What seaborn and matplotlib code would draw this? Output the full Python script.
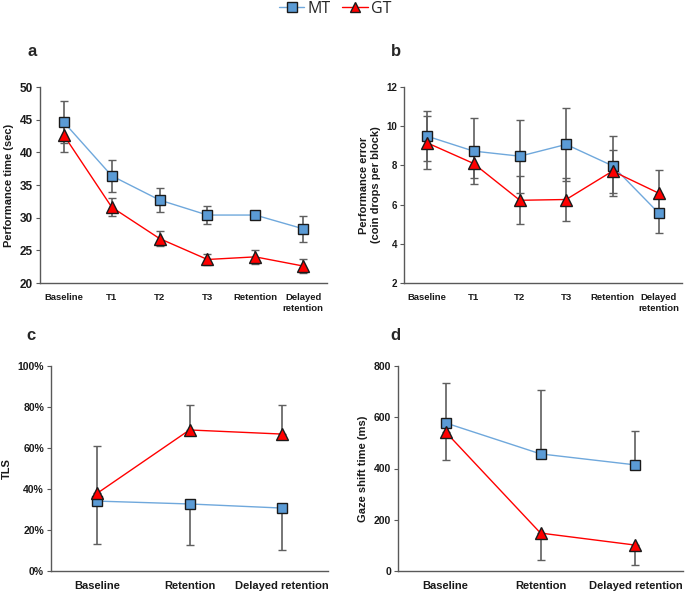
import numpy as np
import pandas as pd
import matplotlib
matplotlib.use("Agg")
import matplotlib.pyplot as plt
import seaborn as sns
from matplotlib.lines import Line2D
from matplotlib.ticker import FuncFormatter

sns.set_style("white")
plt.rcParams['font.family'] = ['Liberation Sans', 'DejaVu Sans']

# ---------------- data ----------------
groups = ["MT", "GT"]
cats_ab = ["Baseline", "T1", "T2", "T3", "Retention", "Delayed\nretention"]
cats_cd = ["Baseline", "Retention", "Delayed retention"]

a_mt = [44.6, 36.4, 32.7, 30.4, 30.4, 28.3]
a_mt_err = [3.2, 2.5, 1.8, 1.4, 0.3, 2.0]
a_gt = [42.6, 31.6, 26.8, 23.6, 24.0, 22.6]
a_gt_err = [2.6, 1.4, 1.1, 0.9, 1.1, 1.0]

b_mt = [9.49, 8.73, 8.47, 9.07, 7.98, 5.56]
b_mt_err = [1.27, 1.70, 1.87, 1.85, 1.53, 1.00]
b_gt = [9.15, 8.10, 6.22, 6.26, 7.71, 6.58]
b_gt_err = [1.35, 0.73, 1.22, 1.12, 1.10, 1.20]

c_mt = [34.1, 32.7, 30.7]
c_mt_err_low = [21.0, 20.0, 20.5]
c_gt = [37.9, 68.8, 66.8]
c_gt_err_up = [23.0, 12.0, 14.2]

d_mt = [578, 457, 414]
d_mt_err_up = [157, 250, 133]
d_gt = [543, 148, 101]
d_gt_err_low = [110, 106, 78]

BLUE = "#5B9BD5"
BLUE_LINE = "#6FA8DC"
RED = "#FF0000"
ERR = "#5f5f5f"
SPINE = "#595959"

fig = plt.figure(figsize=(6.85, 5.91), dpi=100)

def panel(rect, cats, mt, mt_err, gt, gt_err, ylim, yticks, ylabel, letter, letter_xy,
          xfs=7, yfs=8.5, pct=False):
    ax = fig.add_axes(rect)
    df = pd.DataFrame({
        "cat": list(cats) * 2,
        "value": list(mt) + list(gt),
        "group": ["MT"] * len(cats) + ["GT"] * len(cats),
    })
    x = np.arange(len(cats))
    ax.errorbar(x, mt, yerr=mt_err, fmt="none", ecolor=ERR, elinewidth=1.2,
                capsize=3, capthick=1.0, zorder=2)
    ax.errorbar(x, gt, yerr=gt_err, fmt="none", ecolor=ERR, elinewidth=1.2,
                capsize=3, capthick=1.0, zorder=2)
    sns.lineplot(data=df[df.group == "MT"], x="cat", y="value", ax=ax, color=BLUE_LINE,
                 marker="s", markersize=7.5, markerfacecolor=BLUE,
                 markeredgecolor="#1a1a1a", markeredgewidth=1.0,
                 linewidth=1.0, sort=False, legend=False, zorder=3)
    sns.lineplot(data=df[df.group == "GT"], x="cat", y="value", ax=ax, color=RED,
                 marker="^", markersize=8, markeredgecolor="#1a1a1a", markeredgewidth=1.0,
                 linewidth=1.0, sort=False, legend=False, zorder=4)
    ax.set_xlim(-0.5, len(cats) - 0.5)
    ax.set_ylim(*ylim)
    ax.set_yticks(yticks)
    if pct:
        ax.yaxis.set_major_formatter(FuncFormatter(lambda v, p: f"{int(v)}%"))
    ax.set_xlabel("")
    ax.set_ylabel(ylabel, fontsize=8, fontweight="bold", color="#1a1a1a", labelpad=4)
    for s in ["top", "right"]:
        ax.spines[s].set_visible(False)
    for s in ["left", "bottom"]:
        ax.spines[s].set_color(SPINE)
        ax.spines[s].set_linewidth(1.0)
    ax.tick_params(axis="y", which="both", left=True, length=3, width=0.8, color=SPINE,
                   labelsize=yfs, pad=2, labelcolor="#1a1a1a")
    ax.tick_params(axis="x", bottom=False, labelsize=xfs, pad=4, labelcolor="#1a1a1a")
    for lab in ax.get_yticklabels() + ax.get_xticklabels():
        lab.set_fontweight("bold")
    fig.text(letter_xy[0] / 685, 1 - letter_xy[1] / 591, letter, fontsize=12,
             fontweight="bold", ha="center", va="center")
    return ax

panel([40 / 685, 1 - 283 / 591, 287 / 685, 196 / 591], cats_ab,
      a_mt, a_mt_err, a_gt, a_gt_err, (20, 50), range(20, 51, 5),
      "Performance time (sec)", "a", (32, 51), xfs=6.8, yfs=8.5)

panel([404 / 685, 1 - 283 / 591, 278 / 685, 196 / 591], cats_ab,
      b_mt, b_mt_err, b_gt, b_gt_err, (2, 12), range(2, 13, 2),
      "Performance error\n(coin drops per block)", "b", (396, 51), xfs=6.8, yfs=7)

panel([51 / 685, 1 - 571 / 591, 277 / 685, 205 / 591], cats_cd,
      c_mt, [c_mt_err_low, [0, 0, 0]], c_gt, [[0, 0, 0], c_gt_err_up],
      (0, 100), range(0, 101, 20), "TLS", "c", (31, 336), xfs=8, yfs=7.5, pct=True)

panel([398 / 685, 1 - 571 / 591, 285 / 685, 205 / 591], cats_cd,
      d_mt, [[0, 0, 0], d_mt_err_up], d_gt, [d_gt_err_low, [0, 0, 0]],
      (0, 800), range(0, 801, 200), "Gaze shift time (ms)", "d", (395, 336), xfs=8, yfs=7.5)

handles = [
    Line2D([0], [0], color=BLUE_LINE, marker="s", markersize=6.5, markerfacecolor=BLUE,
           markeredgecolor="#1a1a1a", linewidth=1.0),
    Line2D([0], [0], color=RED, marker="^", markersize=7, markerfacecolor=RED,
           markeredgecolor="#1a1a1a", linewidth=1.0),
]
fig.legend(handles, groups, loc="center", bbox_to_anchor=(335 / 685, 1 - 9 / 591),
           ncol=2, frameon=False, handlelength=1.6, handletextpad=0.2,
           columnspacing=0.7, prop={"family": "Open Sans", "size": 11.5})

fig.savefig("out.png", dpi=100)
